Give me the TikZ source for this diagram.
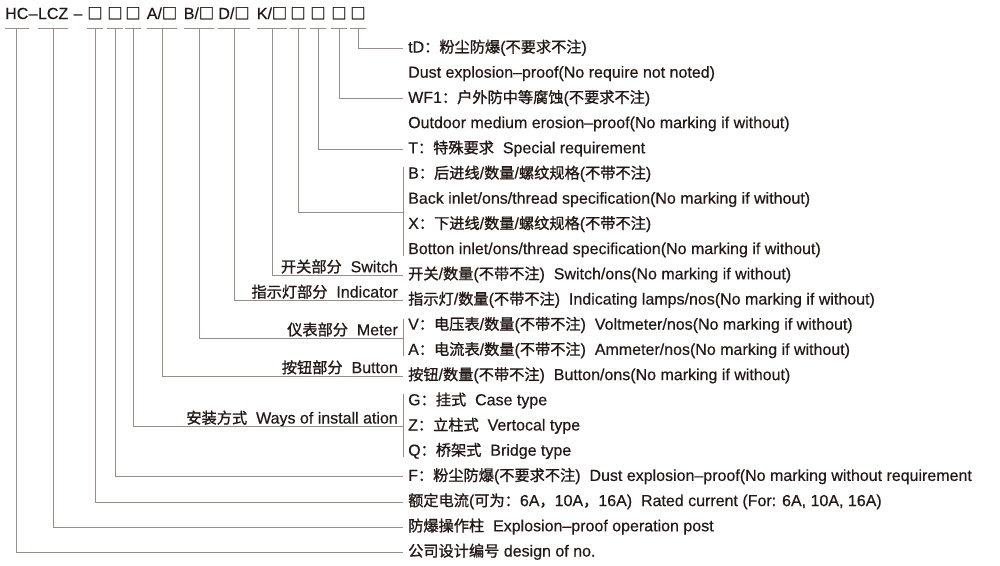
\documentclass[tikz,border=0pt]{standalone}
\usepackage{fontspec}
\setmainfont{Liberation Sans}[FakeBold=0.4]
\newfontfamily\zhfont{Noto Sans CJK SC}[Scale=0.95, FakeBold=1.2]
\newcommand\zh[1]{{\zhfont #1}}
\usetikzlibrary{calc}
\definecolor{txt}{HTML}{231815}
\definecolor{ln}{HTML}{9B8D85}
\newcommand\fsz{\fontsize{16}{19}\selectfont}
\begin{document}
\begin{tikzpicture}[x=1pt,y=-1pt, font=\fsz, text=txt,
  conn/.style={draw=ln, line width=1pt},
  rt/.style={anchor=base west, inner xsep=5pt, inner ysep=0pt, text height=12pt, text depth=4pt},
  lbl/.style={anchor=base east, inner sep=0pt},
  codepart/.style={anchor=base, inner sep=0pt},
  chain/.style={anchor=base west, inner sep=0pt}]
\useasboundingbox (0,0) rectangle (1000,565);
\coordinate (uy) at (0,28);
% ---- code row ----
\node[chain] (hc) at (5,19) {HC};
\node[chain] (d1) at (hc.base east) {–};
\node[chain] (lcz) at (d1.base east) {LCZ};
\node[codepart] (d2) at (78,19) {–};
\node[codepart] (c1) at (95,19) {\zh{□}};
\node[codepart] (c2) at (115,19) {\zh{□}};
\node[codepart] (c3) at (133,19) {\zh{□}};
\node[codepart] (ca) at (162,19) {A/\zh{□}};
\node[codepart] (cb) at (199,19) {B/\zh{□}};
\node[codepart] (cd) at (234,19) {D/\zh{□}};
\node[codepart] (ck) at (272,19) {K/\zh{□}};
\node[codepart] (c4) at (298,19) {\zh{□}};
\node[codepart] (c5) at (318,19) {\zh{□}};
\node[codepart] (c6) at (339,19) {\zh{□}};
\node[codepart] (c7) at (358,19) {\zh{□}};
\foreach \n in {hc,lcz,c1,c2,c3,ca,cb,cd,ck,c4,c5,c6,c7}
  \draw[conn] (\n.west |- uy) -- (\n.east |- uy);
% ---- right column ----
\node[rt] (tD) at (403,52.5) {tD\zh{：粉尘防爆}(\zh{不要求不注})};
\node[rt] (dust) at (403,77.7) {Dust explosion–proof(No require not noted)};
\node[rt] (wf) at (403,102.9) {WF1\zh{：户外防中等腐蚀}(\zh{不要求不注})};
\node[rt] (outdoor) at (403,128.1) {Outdoor medium erosion–proof(No marking if without)};
\node[rt] (tsp) at (403,153.3) {T\zh{：特殊要求}~~Special requirement};
\node[rt] (bb) at (403,178.5) {B\zh{：后进线}/\zh{数量}/\zh{螺纹规格}(\zh{不带不注})};
\node[rt] (back) at (403,203.7) {Back inlet/ons/thread specification(No marking if without)};
\node[rt] (xx) at (403,228.9) {X\zh{：下进线}/\zh{数量}/\zh{螺纹规格}(\zh{不带不注})};
\node[rt] (botton) at (403,254.1) {Botton inlet/ons/thread specification(No marking if without)};
\node[rt] (swr) at (403,279.3) {\zh{开关}/\zh{数量}(\zh{不带不注})~~Switch/ons(No marking if without)};
\node[rt] (ind) at (403,304.5) {\zh{指示灯}/\zh{数量}(\zh{不带不注})~~Indicating lamps/nos(No marking if without)};
\node[rt] (vv) at (403,329.7) {V\zh{：电压表}/\zh{数量}(\zh{不带不注})~~Voltmeter/nos(No marking if without)};
\node[rt] (aa) at (403,354.9) {A\zh{：电流表}/\zh{数量}(\zh{不带不注})~~Ammeter/nos(No marking if without)};
\node[rt] (btn) at (403,380.1) {\zh{按钮}/\zh{数量}(\zh{不带不注})~~Button/ons(No marking if without)};
\node[rt] (gg) at (403,405.3) {G\zh{：挂式}~~Case type};
\node[rt] (zz) at (403,430.5) {Z\zh{：立柱式}~~Vertocal type};
\node[rt] (qq) at (403,455.7) {Q\zh{：桥架式}~~Bridge type};
\node[rt] (ff) at (403,480.9) {F\zh{：粉尘防爆}(\zh{不要求不注})~~Dust explosion–proof(No marking without requirement};
\node[rt] (rated) at (403,506.1) {\zh{额定电流}(\zh{可为：}6A\zh{，}10A\zh{，}16A)~~Rated current (For: 6A, 10A, 16A)};
\node[rt] (post) at (403,531.3) {\zh{防爆操作柱}~~Explosion–proof operation post};
\node[rt] (comp) at (403,556.5) {\zh{公司设计编号} design of no.};
% ---- left labels ----
\node[lbl] (lsw) at ([xshift=-5pt,yshift=3pt]swr.west) {\zh{开关部分}~~Switch};
\node[lbl] (lind) at ([xshift=-5pt,yshift=3pt]ind.west) {\zh{指示灯部分}~~Indicator};
\coordinate (mmid) at ($(vv.west)!0.5!(aa.west)$);
\node[lbl] (lmet) at ([xshift=-5pt,yshift=3pt]mmid) {\zh{仪表部分}~~Meter};
\node[lbl] (lbtn) at ([xshift=-5pt,yshift=3pt]btn.west) {\zh{按钮部分}~~Button};
\node[lbl] (lins) at ([xshift=-5pt,yshift=3pt]zz.west) {\zh{安装方式}~~Ways of install ation};
\coordinate (bmid) at ($(back.west)!0.5!(xx.west)$);
% ---- brackets ----
\draw[conn] ([yshift=-1pt]bb.north west) -- ([yshift=-1.5pt]botton.base west);
\draw[conn] ([yshift=-1pt]vv.north west) -- ([yshift=-1.5pt]aa.base west);
\draw[conn] ([yshift=-1pt]gg.north west) -- ([yshift=-1.5pt]qq.base west);
% ---- connectors ----
\draw[conn] (hc.center |- uy) |- (comp.west);
\draw[conn] (lcz.center |- uy) |- (post.west);
\draw[conn] (c1.center |- uy) |- (rated.west);
\draw[conn] (c2.center |- uy) |- (ff.west);
\draw[conn] (c3.center |- uy) |- (zz.west);
\draw[conn] (ca.center |- uy) |- (btn.west);
\draw[conn] (cb.center |- uy) |- (mmid);
\draw[conn] (cd.center |- uy) |- (ind.west);
\draw[conn] (ck.center |- uy) |- (swr.west);
\draw[conn] (c4.center |- uy) |- (bmid);
\draw[conn] (c5.center |- uy) |- (tsp.west);
\draw[conn] (c6.center |- uy) |- (wf.west);
\draw[conn] (c7.center |- uy) |- (tD.west);
\end{tikzpicture}
\end{document}
